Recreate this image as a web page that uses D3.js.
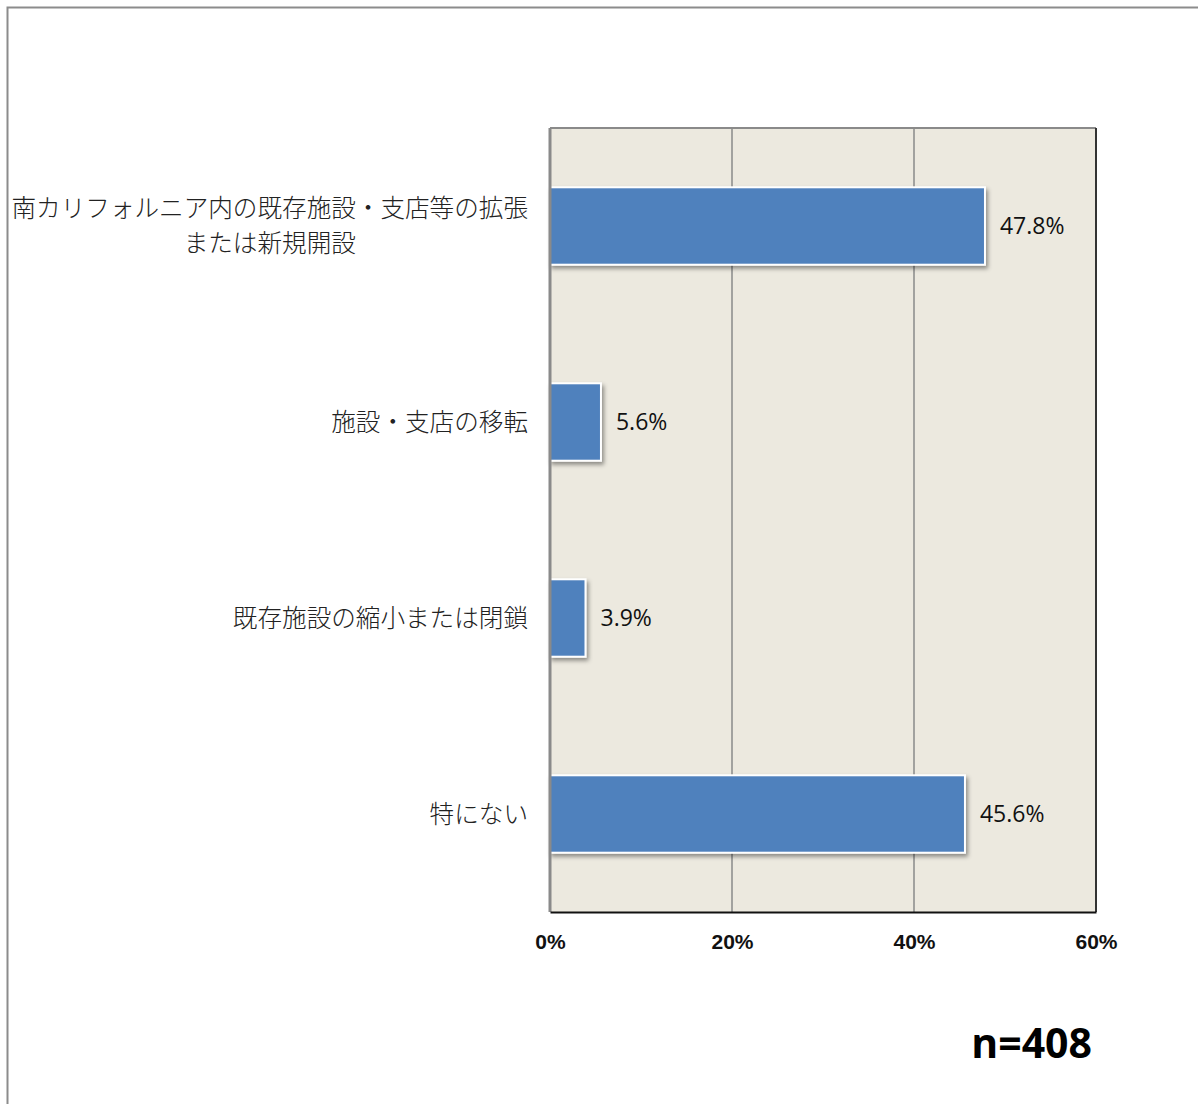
<!DOCTYPE html>
<html>
<head>
<meta charset="utf-8">
<script src="https://cdn.jsdelivr.net/npm/d3@7"></script>
<style>
  html, body { margin: 0; padding: 0; background: #fff; }
  svg { display: block; }
</style>
</head>
<body>
<script>
// Survey categories (each entry is a list of label lines) and shares in percent
const categories = [
  ["南カリフォルニア内の既存施設・支店等の拡張", "または新規開設"],
  ["施設・支店の移転"],
  ["既存施設の縮小または閉鎖"],
  ["特にない"]
];
const values = [47.8, 5.6, 3.9, 45.6];
const tickValues = [0, 20, 40, 60];
const sampleNote = "n=408";

const W = 1198, H = 1104;
const plot = { left: 550, right: 1096, top: 128, bottom: 912 };

const svg = d3.select("body").append("svg")
  .attr("width", W).attr("height", H);

const defs = svg.append("defs");
const shadow = defs.append("filter").attr("id", "barShadow")
  .attr("x", "-10%").attr("y", "-10%").attr("width", "130%").attr("height", "140%");
shadow.append("feDropShadow")
  .attr("dx", 2).attr("dy", 3).attr("stdDeviation", 2)
  .attr("flood-color", "#000").attr("flood-opacity", 0.4);

// outer frame (continues past right and bottom edges)
svg.append("rect")
  .attr("x", 7.5).attr("y", 7.5).attr("width", W + 20).attr("height", H + 20)
  .attr("fill", "none").attr("stroke", "#8c8c8c").attr("stroke-width", 2);

const x = d3.scaleLinear().domain([0, 60]).range([plot.left, plot.right]);
const y = d3.scaleBand().domain(d3.range(categories.length))
  .range([plot.top, plot.bottom]).paddingInner(0.605).paddingOuter(0.3025);

// plot background
svg.append("rect")
  .attr("x", plot.left).attr("y", plot.top)
  .attr("width", plot.right - plot.left).attr("height", plot.bottom - plot.top)
  .attr("fill", "#ECE9DF");

// vertical gridlines
svg.append("g").selectAll("line")
  .data(tickValues.filter(t => t > 0 && t < 60))
  .join("line")
  .attr("x1", d => x(d)).attr("x2", d => x(d))
  .attr("y1", plot.top).attr("y2", plot.bottom)
  .attr("stroke", "#8a8a8a").attr("stroke-width", 1.5);

// plot frame: grey top/left, dark right
svg.append("line").attr("x1", plot.left).attr("x2", plot.right)
  .attr("y1", plot.top).attr("y2", plot.top)
  .attr("stroke", "#8a8a8a").attr("stroke-width", 2);
svg.append("line").attr("x1", plot.right).attr("x2", plot.right)
  .attr("y1", plot.top).attr("y2", plot.bottom)
  .attr("stroke", "#333").attr("stroke-width", 2);

// bars
svg.append("g").selectAll("rect")
  .data(values)
  .join("rect")
  .attr("x", x(0))
  .attr("y", (d, i) => y(i))
  .attr("width", d => x(d) - x(0))
  .attr("height", y.bandwidth())
  .attr("fill", "#4F81BD")
  .attr("stroke", "#fff").attr("stroke-width", 2)
  .attr("filter", "url(#barShadow)");

// left axis line drawn over bar edges
svg.append("line").attr("x1", plot.left).attr("x2", plot.left)
  .attr("y1", plot.top).attr("y2", plot.bottom)
  .attr("stroke", "#8a8a8a").attr("stroke-width", 3);

// x axis
const xAxis = svg.append("g")
  .attr("transform", `translate(0,${plot.bottom})`)
  .call(d3.axisBottom(x).tickValues(tickValues).tickFormat(d => d + "%").tickSize(0).tickPadding(22));
xAxis.select(".domain").attr("stroke", "#111").attr("stroke-width", 2);
xAxis.selectAll("text")
  .attr("font-family", "'Liberation Sans Narrow', 'Liberation Sans', Arial, sans-serif")
  .attr("font-size", 21).attr("fill", "#111").attr("font-weight", "bold");

// value labels
svg.append("g").selectAll("text")
  .data(values)
  .join("text")
  .attr("x", d => x(d) + 15)
  .attr("y", (d, i) => y(i) + y.bandwidth() / 2)
  .attr("dy", "0.36em")
  .attr("font-family", "'Open Sans', 'Liberation Sans', sans-serif")
  .attr("font-size", 23).attr("fill", "#111")
  .text(d => d.toFixed(1) + "%");

// category labels (multi-line labels are centred on their longest line)
const catG = svg.append("g");
categories.forEach((lines, i) => {
  const cy = y(i) + y.bandwidth() / 2;
  const lh = 35;
  const g = catG.append("g");
  const t = g.append("text")
    .attr("font-family", "'Noto Sans CJK JP', sans-serif")
    .attr("font-weight", 300)
    .attr("font-size", 24.6).attr("fill", "#222")
    .attr("text-anchor", lines.length > 1 ? "middle" : "end");
  lines.forEach((ln, k) => {
    t.append("tspan")
      .attr("x", 0)
      .attr("y", cy + (k - (lines.length - 1) / 2) * lh)
      .attr("dy", "0.35em")
      .text(ln);
  });
  if (lines.length > 1) {
    const w = t.node().getBBox().width;
    g.attr("transform", `translate(${528 - w / 2},0)`);
  } else {
    g.attr("transform", "translate(528,0)");
  }
});

// sample size note
svg.append("text")
  .attr("x", 1092).attr("y", 1043).attr("dy", "0.36em")
  .attr("text-anchor", "end")
  .attr("font-family", "'Open Sans', 'Liberation Sans', sans-serif")
  .attr("font-weight", "bold").attr("font-size", 41).attr("fill", "#000")
  .text(sampleNote);
</script>
</body>
</html>
